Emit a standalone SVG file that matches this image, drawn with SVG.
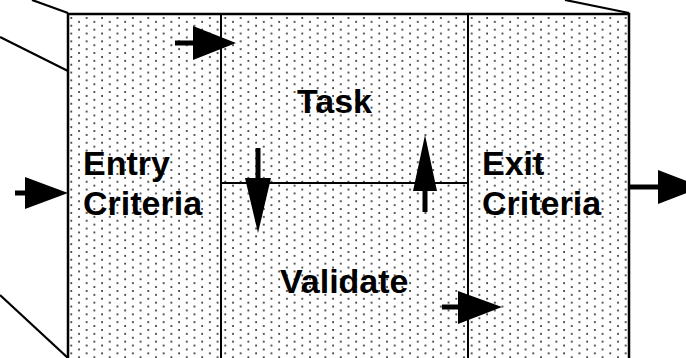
<svg xmlns="http://www.w3.org/2000/svg" width="686" height="358" viewBox="0 0 686 358">
<style>
.edge{fill:none;stroke:#000;stroke-width:2.5}
.div{fill:none;stroke:#000;stroke-width:2}
.persp{fill:none;stroke:#000;stroke-width:2.2}
.shaft{stroke:#000;stroke-width:5;fill:none}
.head{fill:#000;stroke:none}
.lbl{font-family:"Liberation Sans",Arial,sans-serif;font-weight:bold;font-size:34px;fill:#000}
</style>
<defs>
<pattern id="dots" patternUnits="userSpaceOnUse" x="69.3" y="16" width="15.4" height="7.8">
<circle cx="2" cy="2" r="0.95" fill="#1a1a1a"/>
<circle cx="9.7" cy="5.9" r="0.95" fill="#1a1a1a"/>
</pattern>
</defs>
<rect width="686" height="358" fill="#fff"/>
<g id="perspective">
<line class="persp" x1="32" y1="0" x2="68" y2="13"/>
<line class="persp" x1="0" y1="37" x2="68" y2="71"/>
<line class="persp" x1="0" y1="295" x2="68" y2="358"/>
<line class="persp" x1="565" y1="0" x2="629" y2="13"/>
</g>
<g id="box">
<rect x="68" y="14" width="561" height="360" fill="url(#dots)"/>
<rect class="edge" x="68" y="14" width="561" height="360"/>
</g>
<g id="entry">
<text class="lbl" x="83" y="175">Entry</text>
<text class="lbl" x="83" y="215">Criteria</text>
</g>
<g id="task">
<line class="div" x1="221" y1="14" x2="221" y2="183"/>
<text class="lbl" x="297" y="113">Task</text>
</g>
<g id="validate">
<line class="div" x1="221" y1="183" x2="221" y2="360"/>
<line class="div" x1="221" y1="183" x2="468" y2="183"/>
<text class="lbl" x="280" y="293">Validate</text>
</g>
<g id="exit">
<line class="div" x1="468" y1="14" x2="468" y2="360"/>
<text class="lbl" x="482" y="175">Exit</text>
<text class="lbl" x="482" y="215">Criteria</text>
</g>
<g id="connectors">
<line class="shaft" x1="175" y1="43" x2="196" y2="43"/>
<polygon class="head" points="193,26 236,43 193,60"/>
<line class="shaft" x1="15" y1="193" x2="28" y2="193"/>
<polygon class="head" points="25,177 68,193 25,209"/>
<line class="shaft" x1="258" y1="148" x2="258" y2="181"/>
<polygon class="head" points="245,178 258,233 271,178"/>
<line class="shaft" x1="425" y1="189" x2="425" y2="212"/>
<polygon class="head" points="413,191 425,135 437,191"/>
<line class="shaft" x1="442" y1="307" x2="461" y2="307"/>
<polygon class="head" points="458,291 502,307 458,324"/>
<line class="shaft" x1="629" y1="187" x2="661" y2="187"/>
<polygon class="head" points="658,170 702,187 658,204"/>
</g>
</svg>
